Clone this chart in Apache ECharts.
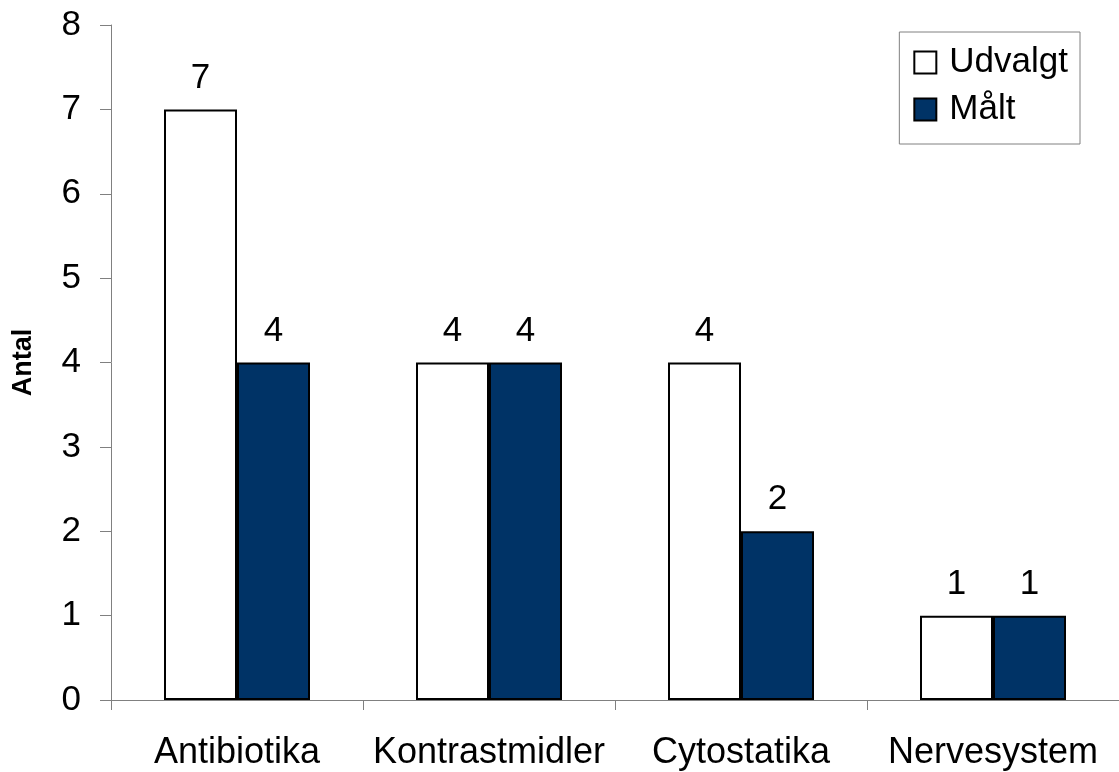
<!DOCTYPE html>
<html><head><meta charset="utf-8">
<script src="https://cdn.jsdelivr.net/npm/echarts@6/dist/echarts.min.js"></script>
<style>html,body{margin:0;padding:0;background:#fff}#c{width:1119px;height:772px}</style>
</head><body><div id="c"></div>
<script>
const categories = ['Antibiotika', 'Kontrastmidler', 'Cytostatika', 'Nervesystem'];
const udvalgt = [7, 4, 4, 1];
const maalt = [4, 4, 2, 1];
const yTicks = [0, 1, 2, 3, 4, 5, 6, 7, 8];

const font = 'Liberation Sans, Arial, sans-serif';
const chart = echarts.init(document.getElementById('c'), null, {renderer: 'canvas'});
const lbl = {show: true, position: 'top', distance: 14, fontSize: 35, color: '#000', fontFamily: font};
chart.setOption({
  animation: false,
  backgroundColor: '#fff',
  grid: {left: 111, right: -8, top: 25, bottom: 72},
  legend: {
    orient: 'vertical', right: 39, top: 32,
    padding: [13, 12, 17, 14],
    borderColor: '#808080', borderWidth: 1,
    itemWidth: 22, itemHeight: 22, itemGap: 12,
    icon: 'rect',
    textStyle: {fontSize: 35, color: '#000', fontFamily: font, padding: [0, 0, 0, 8]},
    data: ['Udvalgt', 'Målt']
  },
  xAxis: {
    type: 'category', data: categories,
    axisLine: {lineStyle: {color: '#808080', width: 1}},
    axisTick: {show: true, length: 10, lineStyle: {color: '#808080'}},
    axisLabel: {fontSize: 36, color: '#000', fontFamily: font, margin: 35, interval: 0}
  },
  yAxis: {
    type: 'value', min: yTicks[0], max: yTicks[yTicks.length - 1], interval: 1,
    name: 'Antal', nameLocation: 'middle', nameGap: 74, nameRotate: 90,
    nameTextStyle: {fontSize: 27, fontWeight: 'bold', color: '#000', fontFamily: font},
    axisLine: {show: true, lineStyle: {color: '#808080', width: 1}},
    axisTick: {show: true, length: 11, lineStyle: {color: '#808080'}},
    splitLine: {show: false},
    axisLabel: {fontSize: 35, color: '#000', fontFamily: font, margin: 30}
  },
  series: [
    {name: 'Udvalgt', type: 'bar', data: udvalgt, barWidth: 73, barGap: '0%',
     itemStyle: {color: '#ffffff', borderColor: '#000', borderWidth: 2}, label: lbl},
    {name: 'Målt', type: 'bar', data: maalt, barWidth: 73, barGap: '0%',
     itemStyle: {color: '#003366', borderColor: '#000', borderWidth: 2}, label: lbl}
  ]
});
</script></body></html>
